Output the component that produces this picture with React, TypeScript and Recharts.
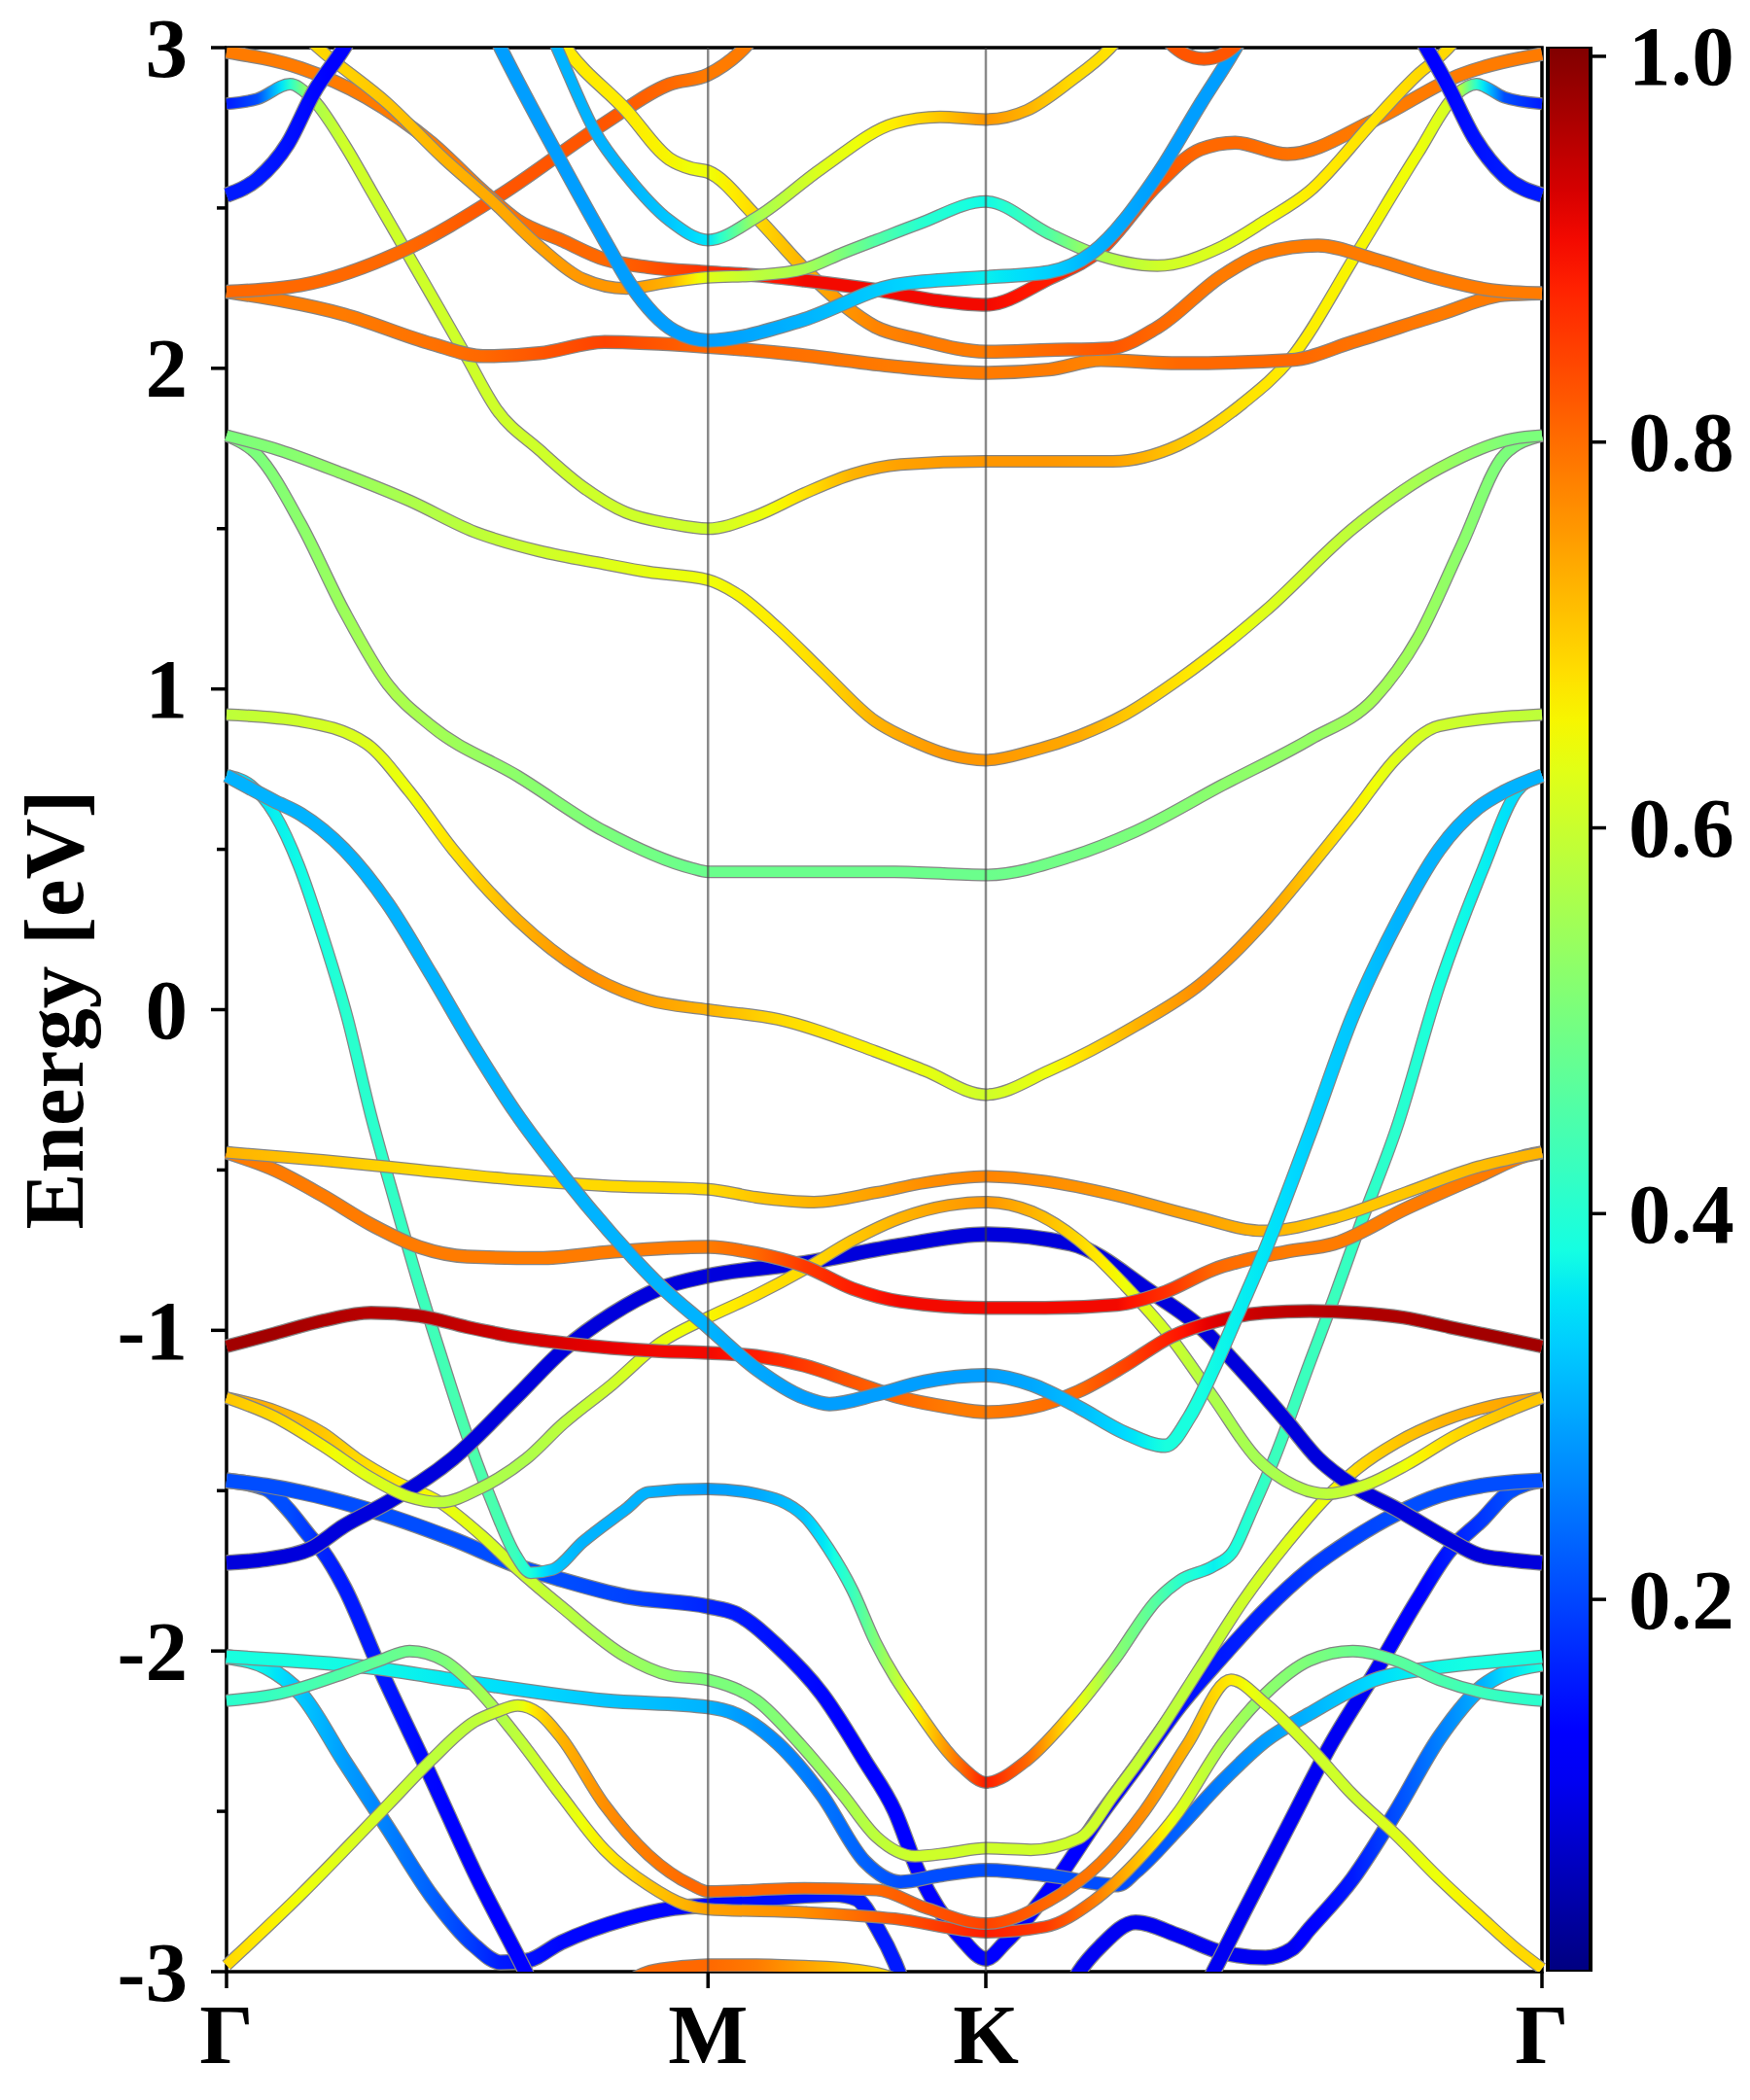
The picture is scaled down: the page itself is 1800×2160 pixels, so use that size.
import React from "react";
import { LineChart, Line, XAxis, YAxis, ReferenceLine, ReferenceArea, BarChart, Bar } from "recharts";

// each point: [k along the path, energy in eV, projected weight 0..1]
type Pt = [number, number, number];

const K_M = 1;
const K_K = 1.577;
const K_END = 2.732;

const kTicks = [0, K_M, K_K, K_END];
const kLabels = ["Γ", "M", "K", "Γ"];
const eTicks = [-3, -2.5, -2, -1.5, -1, -0.5, 0, 0.5, 1, 1.5, 2, 2.5, 3];
const cbTicks = [0.2, 0.4, 0.6, 0.8, 1.0];
const CB_MIN = 0.007;
const CB_MAX = 1.005;

// ---- bands above 2 eV ----
const top1L: Pt[] = [[0, 2.54, .15], [.064, 2.59, .15], [.127, 2.70, .14], [.181, 2.86, .13], [.244, 3.0, .12], [.3, 3.15, .12]];
const top1R: Pt[] = [[2.43, 3.15, .12], [2.492, 3.0, .12], [2.537, 2.88, .13], [2.591, 2.72, .14], [2.654, 2.60, .15], [2.732, 2.54, .15]];
const top2: Pt[] = [[0, 2.825, .15], [.064, 2.84, .2], [.132, 2.886, .4], [.172, 2.85, .55], [.244, 2.70, .6], [.3, 2.555, .6], [.371, 2.37, .6], [.44, 2.19, .6], [.497, 2.04, .6], [.56, 1.874, .6], [.65, 1.745, .6], [.74, 1.63, .6], [.83, 1.55, .6], [.92, 1.516, .6], [1, 1.50, .6], [1.1, 1.54, .63], [1.2, 1.61, .67], [1.3, 1.67, .72], [1.4, 1.70, .74], [1.577, 1.71, .75], [1.7, 1.71, .75], [1.84, 1.71, .74], [1.977, 1.76, .7], [2.11, 1.89, .67], [2.21, 2.03, .66], [2.348, 2.36, .65], [2.474, 2.67, .64], [2.555, 2.855, .6], [2.596, 2.886, .4], [2.654, 2.845, .2], [2.732, 2.825, .15]];
const top3: Pt[] = [[0, 2.987, .78], [.154, 2.936, .78], [.29, 2.845, .78], [.425, 2.704, .78], [.533, 2.552, .78], [.605, 2.461, .79], [.695, 2.40, .8], [.785, 2.34, .8], [.876, 2.315, .82], [1, 2.30, .86], [1.101, 2.29, .88], [1.2, 2.274, .9], [1.347, 2.245, .9], [1.482, 2.21, .9], [1.577, 2.198, .9], [1.708, 2.279, .88], [1.816, 2.37, .85], [1.933, 2.572, .82], [2.023, 2.683, .8], [2.095, 2.704, .8], [2.203, 2.668, .79], [2.384, 2.774, .78], [2.564, 2.916, .78], [2.732, 2.98, .78]];
const top4: Pt[] = [[.14, 3.07, .68], [.19, 3.0, .68], [.335, 2.825, .7], [.452, 2.653, .72], [.551, 2.522, .73], [.65, 2.38, .74], [.74, 2.279, .75], [.83, 2.249, .75], [.92, 2.269, .72], [1, 2.284, .62], [1.101, 2.29, .58], [1.2, 2.31, .55], [1.281, 2.36, .5], [1.35, 2.40, .45], [1.437, 2.45, .4], [1.577, 2.52, .37], [1.708, 2.42, .45], [1.798, 2.36, .55], [1.933, 2.32, .6], [2.068, 2.38, .62], [2.158, 2.461, .64], [2.249, 2.552, .66], [2.384, 2.774, .67], [2.474, 2.916, .68], [2.537, 2.997, .68], [2.58, 3.08, .68]];
const top5: Pt[] = [[.53, 3.12, .28], [.569, 3.0, .28], [.695, 2.643, .28], [.785, 2.40, .28], [.84, 2.259, .28], [.93, 2.117, .28], [1, 2.087, .28], [1.191, 2.148, .3], [1.388, 2.259, .33], [1.527, 2.279, .35], [1.577, 2.284, .36], [1.708, 2.30, .33], [1.798, 2.36, .3], [1.933, 2.603, .28], [2.023, 2.825, .28], [2.095, 2.997, .28], [2.13, 3.09, .28]];
const top6: Pt[] = [[.65, 3.12, .3], [.686, 3.0, .3], [.767, 2.734, .3], [.83, 2.603, .3], [.92, 2.461, .32], [1, 2.40, .35], [1.101, 2.471, .55], [1.236, 2.623, .62], [1.388, 2.764, .66], [1.482, 2.784, .7], [1.577, 2.776, .75], [1.663, 2.805, .72], [1.753, 2.896, .68], [1.834, 2.997, .67], [1.87, 3.06, .67]];
const top7: Pt[] = [[.66, 3.1, .66], [.704, 3.0, .66], [.83, 2.805, .66], [.92, 2.653, .65], [.966, 2.623, .64], [1, 2.613, .64], [1.101, 2.471, .68], [1.2, 2.31, .72], [1.281, 2.198, .75], [1.347, 2.13, .77], [1.437, 2.09, .78], [1.577, 2.052, .78], [1.708, 2.057, .8], [1.834, 2.062, .82], [1.933, 2.127, .8], [2.068, 2.289, .78], [2.158, 2.36, .78], [2.267, 2.383, .78], [2.384, 2.34, .78], [2.519, 2.279, .78], [2.627, 2.244, .78], [2.732, 2.234, .78]];
const top8: Pt[] = [[0, 2.239, .78], [.244, 2.168, .78], [.425, 2.077, .79], [.533, 2.038, .8], [.65, 2.047, .82], [.785, 2.082, .84], [1, 2.067, .8], [1.191, 2.042, .79], [1.388, 2.006, .78], [1.577, 1.986, .78], [1.708, 1.996, .78], [1.816, 2.026, .77], [1.978, 2.016, .8], [2.212, 2.026, .8], [2.339, 2.082, .79], [2.519, 2.168, .78], [2.654, 2.229, .78], [2.732, 2.234, .78]];
const top9: Pt[] = [[0, 2.239, .8], [.154, 2.259, .8], [.371, 2.37, .8], [.56, 2.532, .82], [.785, 2.764, .82], [.92, 2.886, .8], [1, 2.916, .78], [1.074, 2.997, .78], [1.12, 3.08, .78]];
const top10: Pt[] = [[1.93, 3.06, .82], [1.99, 2.98, .82], [2.03, 2.965, .82], [2.07, 2.98, .82], [2.13, 3.06, .82]];

// ---- bands between -0.5 and 2 eV ----
const mid1: Pt[] = [[0, 1.79, .5], [.109, 1.745, .51], [.244, 1.67, .53], [.38, 1.587, .56], [.515, 1.49, .58], [.65, 1.43, .6], [.785, 1.39, .62], [.876, 1.365, .63], [1, 1.34, .64], [1.056, 1.30, .65], [1.145, 1.19, .66], [1.236, 1.057, .68], [1.347, 0.90, .72], [1.437, 0.83, .74], [1.5, 0.795, .75], [1.577, 0.778, .75], [1.673, 0.807, .74], [1.77, 0.854, .73], [1.866, 0.92, .7], [1.978, 1.03, .67], [2.158, 1.244, .62], [2.339, 1.50, .58], [2.519, 1.688, .54], [2.672, 1.78, .5], [2.732, 1.79, .5]];
const mid2: Pt[] = [[0, 1.79, .5], [.064, 1.73, .5], [.154, 1.516, .52], [.244, 1.244, .54], [.335, 1.014, .56], [.425, 0.885, .55], [.605, 0.728, .52], [.785, 0.556, .5], [.966, 0.441, .48], [1, 0.43, .48], [1.2, 0.43, .48], [1.387, 0.43, .48], [1.577, 0.42, .48], [1.753, 0.477, .49], [1.888, 0.556, .5], [2.068, 0.70, .52], [2.249, 0.842, .53], [2.384, 0.971, .55], [2.474, 1.158, .54], [2.564, 1.444, .52], [2.654, 1.73, .5], [2.732, 1.79, .5]];
const mid3: Pt[] = [[0, 0.92, .58], [.153, 0.90, .6], [.29, 0.83, .62], [.38, 0.68, .64], [.47, 0.50, .67], [.604, 0.28, .72], [.74, 0.12, .76], [.876, 0.03, .74], [1, 0.0, .72], [1.145, -0.03, .68], [1.347, -0.13, .65], [1.45, -0.19, .63], [1.577, -0.265, .6], [1.709, -0.19, .64], [1.888, -0.05, .72], [2.023, 0.08, .76], [2.159, 0.28, .74], [2.248, 0.44, .7], [2.339, 0.61, .66], [2.43, 0.785, .62], [2.519, 0.885, .6], [2.732, 0.92, .58]];
const cyanSteep: Pt[] = [[0, 0.73, .33], [.05, 0.70, .34], [.1, 0.61, .36], [.15, 0.45, .37], [.2, 0.23, .38], [.25, -0.02, .4], [.3, -0.33, .4], [.35, -0.60, .41], [.4, -0.86, .42], [.45, -1.10, .43], [.5, -1.33, .44], [.55, -1.53, .44], [.6, -1.70, .42], [.632, -1.756, .38], [.677, -1.746, .32], [.74, -1.66, .3], [.83, -1.557, .3], [.876, -1.505, .3], [1, -1.495, .28], [1.1, -1.51, .29], [1.2, -1.58, .32], [1.25, -1.68, .36], [1.3, -1.81, .42], [1.347, -1.97, .5], [1.437, -2.19, .66], [1.527, -2.36, .8], [1.577, -2.41, .88], [1.663, -2.34, .8], [1.753, -2.20, .66], [1.843, -2.03, .52], [1.933, -1.84, .45], [1.98, -1.78, .4], [2.05, -1.735, .36], [2.09, -1.69, .38], [2.13, -1.56, .4], [2.176, -1.40, .42], [2.25, -1.10, .42], [2.3, -0.90, .42], [2.35, -0.69, .41], [2.43, -0.37, .4], [2.52, 0.08, .38], [2.61, 0.44, .36], [2.68, 0.68, .34], [2.732, 0.73, .33]];
const blueGentle: Pt[] = [[0, 0.73, .3], [.1, 0.65, .3], [.154, 0.61, .3], [.244, 0.50, .3], [.335, 0.33, .3], [.425, 0.11, .3], [.515, -0.12, .3], [.6, -0.32, .3], [.7, -0.52, .3], [.8, -0.70, .3], [.9, -0.86, .3], [1, -0.99, .3], [1.1, -1.12, .29], [1.2, -1.21, .28], [1.252, -1.23, .28], [1.35, -1.20, .28], [1.45, -1.16, .28], [1.577, -1.14, .28], [1.673, -1.17, .29], [1.77, -1.24, .31], [1.866, -1.32, .34], [1.95, -1.36, .38], [2.0, -1.27, .38], [2.05, -1.12, .37], [2.1, -0.95, .36], [2.16, -0.74, .35], [2.249, -0.39, .33], [2.339, -0.02, .32], [2.43, 0.27, .3], [2.519, 0.50, .3], [2.6, 0.63, .3], [2.654, 0.68, .3], [2.732, 0.73, .3]];

// ---- bands between -1.5 and -0.4 eV ----
const low1: Pt[] = [[0, -0.445, .72], [.2, -0.47, .7], [.4, -0.50, .68], [.6, -0.53, .68], [.8, -0.55, .68], [1, -0.56, .68], [1.1, -0.585, .7], [1.22, -0.60, .72], [1.35, -0.57, .74], [1.45, -0.54, .76], [1.577, -0.52, .77], [1.7, -0.535, .76], [1.85, -0.58, .75], [2.0, -0.64, .74], [2.156, -0.69, .72], [2.3, -0.65, .7], [2.45, -0.57, .7], [2.6, -0.49, .71], [2.732, -0.445, .72]];
const low2: Pt[] = [[0, -0.445, .78], [.1, -0.50, .78], [.2, -0.58, .78], [.3, -0.67, .78], [.4, -0.74, .78], [.5, -0.77, .78], [.65, -0.775, .78], [.8, -0.755, .78], [1, -0.74, .78], [1.1, -0.76, .8], [1.2, -0.80, .85], [1.3, -0.87, .88], [1.4, -0.91, .9], [1.577, -0.93, .9], [1.7, -0.93, .9], [1.85, -0.92, .9], [1.95, -0.88, .86], [2.05, -0.81, .8], [2.2, -0.755, .78], [2.3, -0.73, .78], [2.45, -0.62, .78], [2.6, -0.52, .78], [2.7, -0.455, .78], [2.732, -0.445, .78]];
const low3: Pt[] = [[0, -1.21, .7], [.1, -1.27, .68], [.2, -1.36, .65], [.3, -1.46, .62], [.38, -1.52, .6], [.443, -1.536, .58], [.53, -1.49, .56], [.623, -1.40, .56], [.7, -1.29, .58], [.8, -1.17, .6], [.9, -1.04, .63], [1, -0.96, .65], [1.1, -0.89, .67], [1.2, -0.81, .68], [1.3, -0.72, .7], [1.4, -0.65, .72], [1.5, -0.61, .74], [1.577, -0.60, .75], [1.673, -0.63, .72], [1.77, -0.72, .68], [1.866, -0.86, .64], [1.96, -1.02, .6], [2.05, -1.21, .56], [2.14, -1.40, .55], [2.2, -1.47, .56], [2.285, -1.51, .58], [2.37, -1.48, .6], [2.45, -1.42, .64], [2.55, -1.33, .68], [2.65, -1.26, .7], [2.732, -1.21, .7]];
const low4: Pt[] = [[0, -1.21, .74], [.1, -1.25, .72], [.2, -1.32, .7], [.271, -1.40, .68], [.35, -1.47, .66], [.443, -1.536, .64], [.53, -1.64, .62], [.605, -1.746, .6], [.695, -1.861, .58], [.83, -2.018, .54], [.92, -2.076, .52], [1, -2.09, .5], [1.101, -2.154, .5], [1.191, -2.29, .52], [1.281, -2.45, .55], [1.35, -2.58, .58], [1.43, -2.64, .6], [1.5, -2.63, .6], [1.577, -2.615, .6], [1.67, -2.62, .6], [1.771, -2.584, .6], [1.843, -2.448, .6], [1.933, -2.26, .58], [2.023, -2.05, .58], [2.113, -1.84, .6], [2.203, -1.662, .62], [2.285, -1.52, .64], [2.35, -1.43, .68], [2.43, -1.35, .7], [2.53, -1.28, .72], [2.63, -1.235, .73], [2.732, -1.21, .74]];
const darkRed: Pt[] = [[0, -1.05, .97], [.1, -1.01, .97], [.2, -0.97, .96], [.3, -0.945, .95], [.4, -0.955, .95], [.5, -0.99, .94], [.6, -1.02, .93], [.7, -1.04, .92], [.8, -1.055, .91], [.9, -1.065, .9], [1, -1.07, .9], [1.1, -1.08, .88], [1.2, -1.11, .85], [1.3, -1.16, .82], [1.4, -1.21, .8], [1.5, -1.24, .78], [1.577, -1.255, .78], [1.673, -1.24, .79], [1.77, -1.19, .8], [1.866, -1.11, .84], [1.962, -1.02, .88], [2.059, -0.97, .92], [2.155, -0.945, .94], [2.251, -0.94, .95], [2.347, -0.945, .96], [2.444, -0.96, .96], [2.54, -0.99, .97], [2.636, -1.02, .97], [2.732, -1.05, .97]];
const darkBlue: Pt[] = [[0, -1.725, .08], [.082, -1.714, .08], [.172, -1.683, .08], [.244, -1.61, .08], [.335, -1.536, .08], [.47, -1.40, .08], [.6, -1.21, .08], [.7, -1.06, .08], [.8, -0.95, .08], [.9, -0.87, .08], [1, -0.83, .08], [1.2, -0.79, .08], [1.4, -0.735, .08], [1.577, -0.70, .08], [1.753, -0.73, .08], [1.92, -0.88, .08], [2.03, -1.0, .08], [2.1, -1.11, .08], [2.2, -1.28, .08], [2.267, -1.40, .08], [2.339, -1.484, .08], [2.43, -1.557, .08], [2.537, -1.651, .08], [2.6, -1.70, .08], [2.66, -1.715, .08], [2.732, -1.725, .08]];

// ---- bands below -1.4 eV ----
const steepL: Pt[] = [[0, -1.468, .2], [.082, -1.494, .2], [.127, -1.557, .2], [.172, -1.641, .18], [.2, -1.69, .16], [.244, -1.80, .15], [.317, -2.05, .15], [.425, -2.395, .13], [.515, -2.69, .12], [.614, -2.98, .12], [.66, -3.12, .12]];
const steepR: Pt[] = [[2.0, -3.15, .1], [2.05, -3.0, .1], [2.113, -2.814, .1], [2.203, -2.552, .1], [2.294, -2.29, .1], [2.384, -2.07, .1], [2.474, -1.84, .12], [2.537, -1.693, .15], [2.609, -1.589, .18], [2.663, -1.505, .2], [2.732, -1.468, .2]];
const vBand: Pt[] = [[0, -1.468, .2], [.082, -1.484, .2], [.29, -1.557, .2], [.47, -1.651, .2], [.605, -1.735, .2], [.695, -1.777, .2], [.83, -1.83, .19], [1, -1.861, .16], [1.056, -1.882, .15], [1.146, -1.987, .14], [1.236, -2.133, .13], [1.326, -2.343, .12], [1.388, -2.50, .12], [1.437, -2.689, .12], [1.527, -2.898, .12], [1.577, -2.96, .12], [1.617, -2.909, .12], [1.726, -2.71, .12], [1.816, -2.51, .12], [1.888, -2.364, .13], [1.978, -2.175, .14], [2.068, -2.018, .15], [2.158, -1.871, .16], [2.249, -1.746, .18], [2.339, -1.651, .19], [2.429, -1.573, .2], [2.519, -1.515, .2], [2.609, -1.484, .2], [2.732, -1.468, .2]];
const cyanFlat: Pt[] = [[0, -2.018, .38], [.29, -2.05, .37], [.515, -2.10, .35], [.785, -2.154, .32], [1, -2.175, .3], [1.056, -2.196, .28], [1.146, -2.29, .26], [1.236, -2.448, .24], [1.326, -2.657, .22], [1.4, -2.72, .2], [1.48, -2.70, .2], [1.577, -2.683, .2], [1.708, -2.70, .2], [1.852, -2.73, .2], [1.888, -2.69, .2], [1.978, -2.552, .22], [2.068, -2.406, .25], [2.158, -2.28, .28], [2.249, -2.196, .3], [2.384, -2.09, .34], [2.519, -2.05, .37], [2.654, -2.029, .38], [2.732, -2.018, .38]];
const deepL: Pt[] = [[0, -2.018, .38], [.082, -2.05, .36], [.154, -2.133, .32], [.244, -2.343, .28], [.335, -2.552, .25], [.425, -2.762, .22], [.515, -2.919, .18], [.569, -2.971, .15], [.623, -2.966, .14], [.695, -2.909, .13], [.83, -2.835, .13], [.92, -2.804, .13], [1, -2.793, .13], [1.146, -2.77, .14], [1.263, -2.76, .15], [1.308, -2.773, .15], [1.353, -2.867, .15], [1.388, -2.971, .15], [1.42, -3.1, .15]];
const deepR: Pt[] = [[1.72, -3.15, .1], [1.771, -3.0, .1], [1.816, -2.92, .1], [1.888, -2.846, .1], [1.978, -2.888, .1], [2.068, -2.94, .1], [2.158, -2.956, .1], [2.212, -2.93, .1], [2.249, -2.867, .12], [2.339, -2.71, .15], [2.429, -2.50, .2], [2.519, -2.27, .25], [2.609, -2.11, .3], [2.654, -2.07, .34], [2.732, -2.04, .38]];
const humpGreen: Pt[] = [[0, -2.155, .4], [.109, -2.133, .42], [.244, -2.07, .45], [.317, -2.03, .47], [.38, -2.0, .48], [.452, -2.03, .5], [.515, -2.11, .54], [.605, -2.27, .58], [.695, -2.45, .62], [.785, -2.62, .66], [.876, -2.73, .7], [.95, -2.79, .72], [1, -2.805, .74], [1.2, -2.815, .76], [1.388, -2.835, .82], [1.577, -2.877, .88], [1.7, -2.86, .85], [1.8, -2.78, .78], [1.9, -2.64, .7], [1.978, -2.50, .62], [2.068, -2.29, .56], [2.158, -2.133, .52], [2.249, -2.03, .5], [2.339, -2.0, .48], [2.429, -2.03, .46], [2.519, -2.09, .44], [2.609, -2.13, .42], [2.732, -2.155, .4]];
const yellowArc: Pt[] = [[0, -2.98, .68], [.154, -2.76, .64], [.335, -2.48, .6], [.425, -2.34, .58], [.515, -2.22, .58], [.56, -2.19, .6], [.605, -2.17, .62], [.65, -2.196, .68], [.695, -2.27, .72], [.785, -2.48, .76], [.876, -2.636, .78], [.966, -2.73, .8], [1, -2.75, .8], [1.2, -2.74, .8], [1.35, -2.745, .8], [1.45, -2.80, .82], [1.577, -2.85, .84], [1.708, -2.78, .8], [1.816, -2.66, .78], [1.906, -2.50, .76], [1.996, -2.29, .72], [2.086, -2.09, .66], [2.158, -2.165, .62], [2.25, -2.30, .6], [2.339, -2.448, .6], [2.429, -2.573, .62], [2.519, -2.71, .64], [2.609, -2.835, .66], [2.68, -2.93, .68], [2.732, -2.99, .68]];
const bottomOrange: Pt[] = [[.8, -3.06, .78], [.88, -3.0, .8], [.95, -2.985, .8], [1, -2.98, .8], [1.1, -2.98, .78], [1.2, -2.985, .74], [1.3, -2.995, .7], [1.38, -3.02, .68], [1.45, -3.08, .68]];

const bands: Pt[][] = [
  deepL, deepR, steepL, steepR, vBand, cyanFlat, humpGreen, yellowArc, bottomOrange,
  low4, cyanSteep, darkBlue, low3, darkRed, low2, low1, blueGentle,
  mid3, mid2, mid1, top2, top8, top9, top7, top3, top4, top5, top6, top10, top1L, top1R,
];

// matplotlib "jet" segment data
const JET: Record<string, [number, number][]> = {
  r: [[0, 0], [0.35, 0], [0.66, 1], [0.89, 1], [1, 0.5]],
  g: [[0, 0], [0.125, 0], [0.375, 1], [0.64, 1], [0.91, 0], [1, 0]],
  b: [[0, 0.5], [0.11, 1], [0.34, 1], [0.65, 0], [1, 0]],
};

function channel(seg: [number, number][], v: number) {
  const x = Math.max(0, Math.min(1, v));
  for (let i = 0; i < seg.length - 1; i++) {
    const [x0, y0] = seg[i];
    const [x1, y1] = seg[i + 1];
    if (x <= x1) return y0 + ((y1 - y0) * (x - x0)) / (x1 - x0);
  }
  return seg[seg.length - 1][1];
}

const jet = (v: number) => {
  const c = (s: [number, number][]) => Math.round(channel(s, v) * 255);
  return `rgb(${c(JET.r)},${c(JET.g)},${c(JET.b)})`;
};

const font = { fontFamily: "'Liberation Serif', 'Times New Roman', serif", fontWeight: 700, fontSize: 87, fill: "#000" };

function bandStops(pts: Pt[]) {
  const k0 = pts[0][0];
  const span = pts[pts.length - 1][0] - k0;
  const out: { off: number; col: string }[] = [];
  for (let i = 0; i < pts.length - 1; i++) {
    const [ka, , wa] = pts[i];
    const [kb, , wb] = pts[i + 1];
    for (let s = 0; s < 4; s++) {
      const t = s / 4;
      out.push({ off: (ka + (kb - ka) * t - k0) / span, col: jet(wa + (wb - wa) * t) });
    }
  }
  out.push({ off: 1, col: jet(pts[pts.length - 1][2]) });
  return out;
}

function bandWidth(pts: Pt[]) {
  const m = pts.reduce((s, p) => s + p[2], 0) / pts.length;
  if (m < 0.25) return 14;
  if (m < 0.42) return 12.5;
  if (m < 0.72) return 10.5;
  return 12;
}

const YTick = (props: any) => {
  const { x, y, payload } = props;
  const major = Number.isInteger(payload.value);
  return (
    <g>
      <line x1={x - (major ? 16 : 10)} x2={x} y1={y} y2={y} stroke="#000" strokeWidth={3.5} />
      {major && (
        <text x={x - 40} y={y} textAnchor="end" dominantBaseline="central" style={font}>
          {payload.value}
        </text>
      )}
    </g>
  );
};

const XTick = (props: any) => {
  const { x, y, payload } = props;
  const idx = kTicks.indexOf(payload.value);
  return (
    <g>
      <line x1={x} x2={x} y1={y} y2={y + 17} stroke="#000" strokeWidth={3.5} />
      <text x={x} y={y + 64} textAnchor="middle" dominantBaseline="central" style={font}>
        {kLabels[idx]}
      </text>
    </g>
  );
};

const CbTick = (props: any) => {
  const { x, y, payload } = props;
  return (
    <g>
      <line x1={x} x2={x + 16} y1={y} y2={y} stroke="#000" strokeWidth={3.5} />
      <text x={x + 39} y={y} textAnchor="start" dominantBaseline="central" style={font}>
        {Number(payload.value).toFixed(1)}
      </text>
    </g>
  );
};

const cbData = [{ name: "w", span: [CB_MIN, CB_MAX] }];

export default function App() {
  const cbStops = Array.from({ length: 41 }, (_, i) => i / 40);
  return (
    <div style={{ position: "absolute", left: 0, top: 0, width: 1800, height: 2160, background: "#fff" }}>
      <LineChart width={1800} height={2160} margin={{ top: 49, right: 214, bottom: 72, left: 133 }}>
        <defs>
          {bands.map((b, i) => (
            <linearGradient key={i} id={`bg${i}`} x1="0" y1="0" x2="1" y2="0">
              {bandStops(b).map((s, j) => (
                <stop key={j} offset={s.off} stopColor={s.col} />
              ))}
            </linearGradient>
          ))}
        </defs>
        <XAxis
          type="number"
          dataKey="k"
          domain={[0, K_END]}
          ticks={kTicks}
          interval={0}
          height={60}
          axisLine={false}
          tickLine={false}
          tickSize={0}
          tickMargin={0}
          tick={<XTick />}
        />
        <YAxis
          type="number"
          dataKey="e"
          domain={[-3, 3]}
          allowDataOverflow
          ticks={eTicks}
          interval={0}
          width={100}
          axisLine={false}
          tickLine={false}
          tickSize={0}
          tickMargin={0}
          tick={<YTick />}
        />
        {bands.flatMap((b, i) => {
          const data = b.map(([k, e]) => ({ k, e }));
          const w = bandWidth(b);
          return [
            <Line key={`o${i}`} data={data} dataKey="e" type="monotoneX" stroke="#858585" strokeWidth={w + 2.5}
              dot={false} activeDot={false} isAnimationActive={false} />,
            <Line key={`c${i}`} data={data} dataKey="e" type="monotoneX" stroke={`url(#bg${i})`} strokeWidth={w}
              dot={false} activeDot={false} isAnimationActive={false} />,
          ];
        })}
        <ReferenceLine x={K_M} stroke="rgba(60,60,60,0.6)" strokeWidth={2.5} />
        <ReferenceLine x={K_K} stroke="rgba(60,60,60,0.6)" strokeWidth={2.5} />
        <ReferenceArea x1={0} x2={K_END} y1={-3} y2={3} fill="none" stroke="#000" strokeWidth={3.5} />
      </LineChart>

      <div style={{ position: "absolute", left: 1500, top: 0 }}>
        <BarChart width={300} height={2160} data={cbData} margin={{ top: 48, right: 14, bottom: 132, left: 92 }} barCategoryGap={0}>
          <defs>
            <linearGradient id="cbjet" x1="0" y1="1" x2="0" y2="0">
              {cbStops.map((f, i) => (
                <stop key={i} offset={f} stopColor={jet(f)} />
              ))}
            </linearGradient>
          </defs>
          <XAxis dataKey="name" hide />
          <YAxis
            orientation="right"
            type="number"
            domain={[CB_MIN, CB_MAX]}
            allowDataOverflow
            ticks={cbTicks}
            interval={0}
            width={150}
            axisLine={false}
            tickLine={false}
            tickSize={0}
            tickMargin={0}
            tick={<CbTick />}
          />
          <Bar dataKey="span" fill="url(#cbjet)" stroke="#000" strokeWidth={4} isAnimationActive={false} />
        </BarChart>
      </div>

      <div
        style={{
          position: "absolute",
          left: 54.5 - 300,
          top: 1038 - 43.5,
          width: 600,
          height: 87,
          lineHeight: "87px",
          textAlign: "center",
          transform: "rotate(-90deg)",
          fontFamily: "'Liberation Serif', 'Times New Roman', serif",
          fontWeight: 700,
          fontSize: 87,
          color: "#000",
          whiteSpace: "nowrap",
        }}
      >
        Energy [eV]
      </div>
    </div>
  );
}
